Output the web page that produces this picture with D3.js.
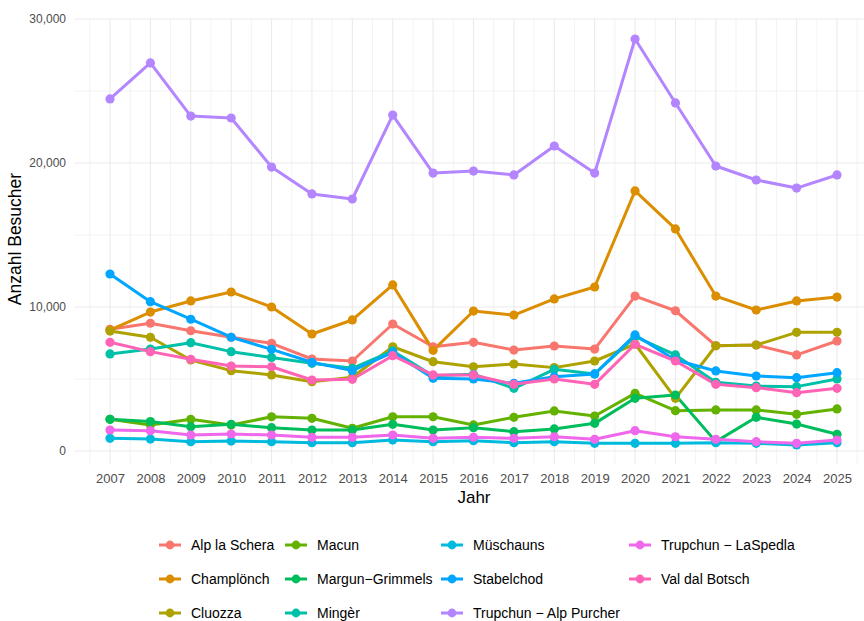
<!DOCTYPE html>
<html lang="de">
<head>
  <meta charset="UTF-8">
  <title>Anzahl Besucher</title>
  <script src="https://d3js.org/d3.v7.min.js"></script>
  <style>
    body { margin: 0; background: #fff; font-family: 'Liberation Sans', Arial, sans-serif; }
    svg { display: block; }
  </style>
</head>
<body>
  <svg id="chart" width="864" height="621"></svg>
  <script>
    const years = [2007, 2008, 2009, 2010, 2011, 2012, 2013, 2014, 2015, 2016, 2017, 2018, 2019, 2020, 2021, 2022, 2023, 2024, 2025];
    const yTicks = [0, 10000, 20000, 30000];

    const alpLaSchera = [8450, 8870, 8350, 7900, 7480, 6390, 6250, 8820, 7240, 7550, 7010, 7290, 7080, 10760, 9740, 7310, 7360, 6670, 7640];
    const champlonch = [8400, 9650, 10420, 11040, 10000, 8125, 9100, 11530, 6990, 9720, 9440, 10560, 11390, 18060, 15420, 10760, 9790, 10420, 10690];
    const cluozza = [8330, 7900, 6320, 5580, 5280, 4810, 5120, 7240, 6200, 5850, 6040, 5790, 6250, 7430, 3660, 7310, 7360, 8240, 8240];
    const macun = [2200, 1800, 2200, 1800, 2380, 2270, 1580, 2380, 2380, 1810, 2340, 2780, 2430, 4000, 2800, 2850, 2850, 2550, 2920];
    const margunGrimmels = [2200, 2050, 1690, 1850, 1620, 1460, 1460, 1850, 1460, 1620, 1340, 1530, 1920, 3660, 3890, 650, 2340, 1870, 1160];
    const minger = [6740, 7080, 7520, 6900, 6500, 6090, 5740, 6950, 5230, 5330, 4350, 5670, 5350, 7940, 6670, 4770, 4510, 4470, 5000];
    const muschauns = [880, 830, 650, 690, 650, 580, 580, 760, 650, 720, 580, 650, 530, 530, 530, 580, 530, 420, 580];
    const stabelchod = [12290, 10370, 9150, 7900, 7060, 6160, 5580, 6850, 5050, 5000, 4700, 5160, 5350, 8060, 6320, 5560, 5210, 5090, 5440];
    const trupchunAlpPurcher = [24450, 26950, 23260, 23125, 19720, 17850, 17500, 23330, 19300, 19440, 19170, 21180, 19300, 28610, 24170, 19790, 18820, 18260, 19170];
    const trupchunLaSpedla = [1460, 1410, 1110, 1180, 1110, 950, 950, 1110, 880, 950, 880, 990, 810, 1410, 990, 810, 650, 530, 760];
    const valDalBotsch = [7550, 6900, 6370, 5900, 5850, 4930, 4980, 6620, 5280, 5280, 4630, 5000, 4630, 7410, 6250, 4630, 4400, 4050, 4350];

    const seriesNames = ["Alp la Schera", "Champlönch", "Cluozza", "Macun", "Margun\u2212Grimmels", "Mingèr",
      "Müschauns", "Stabelchod", "Trupchun \u2212 Alp Purcher", "Trupchun \u2212 LaSpedla", "Val dal Botsch"];
    const seriesValues = [alpLaSchera, champlonch, cluozza, macun, margunGrimmels, minger,
      muschauns, stabelchod, trupchunAlpPurcher, trupchunLaSpedla, valDalBotsch];
    const colors = ["#F8766D", "#DB8E00", "#AEA200", "#64B200", "#00BD5C", "#00C1A7",
      "#00BADE", "#00A6FF", "#B385FF", "#EF67EB", "#FF63B6"];

    const series = seriesNames.map((name, i) => ({
      name: name,
      color: colors[i],
      values: years.map((yr, j) => ({ year: yr, value: seriesValues[i][j] }))
    }));

    const svg = d3.select("#chart");
    const panel = { left: 74, right: 873, top: 18, bottom: 464 };

    const x = d3.scaleLinear().domain([2007, 2025]).range([110, 837]);
    const y = d3.scaleLinear().domain([0, 30000]).range([451, 19]);

    const grid = svg.append("g");
    // minor grid
    const minorX = d3.range(2006.5, 2026, 1);
    grid.selectAll("line.mx").data(minorX).enter().append("line")
      .attr("x1", d => x(d)).attr("x2", d => x(d))
      .attr("y1", panel.top).attr("y2", panel.bottom)
      .attr("stroke", "#EBEBEB").attr("stroke-width", 0.6);
    grid.selectAll("line.my").data([5000, 15000, 25000]).enter().append("line")
      .attr("x1", panel.left).attr("x2", panel.right)
      .attr("y1", d => y(d)).attr("y2", d => y(d))
      .attr("stroke", "#EBEBEB").attr("stroke-width", 0.6);
    // major grid
    grid.selectAll("line.gx").data(years).enter().append("line")
      .attr("x1", d => x(d)).attr("x2", d => x(d))
      .attr("y1", panel.top).attr("y2", panel.bottom)
      .attr("stroke", "#EBEBEB").attr("stroke-width", 1.1);
    grid.selectAll("line.gy").data(yTicks).enter().append("line")
      .attr("x1", panel.left).attr("x2", panel.right)
      .attr("y1", d => y(d)).attr("y2", d => y(d))
      .attr("stroke", "#EBEBEB").attr("stroke-width", 1.1);

    // axes (text only, like theme_minimal)
    const xAxis = svg.append("g").attr("transform", `translate(0,${panel.bottom})`)
      .call(d3.axisBottom(x).tickValues(years).tickFormat(d3.format("d")).tickSize(0).tickPadding(10));
    const yAxis = svg.append("g").attr("transform", `translate(${panel.left},0)`)
      .call(d3.axisLeft(y).tickValues(yTicks).tickFormat(d3.format(",")).tickSize(0).tickPadding(8));
    [xAxis, yAxis].forEach(a => {
      a.select(".domain").remove();
      a.selectAll("text").attr("fill", "#4D4D4D")
        .style("font-family", "'Liberation Sans', Arial, sans-serif");
    });
    xAxis.selectAll("text").style("font-size", "13px");
    yAxis.selectAll("text").style("font-size", "12px");

    svg.append("text").attr("x", 474).attr("y", 503)
      .attr("text-anchor", "middle").style("font-size", "17px").attr("fill", "#000").text("Jahr");
    svg.append("text").attr("transform", "translate(21,239) rotate(-90)")
      .attr("text-anchor", "middle").style("font-size", "17.5px").attr("fill", "#000").text("Anzahl Besucher");

    const line = d3.line().x(d => x(d.year)).y(d => y(d.value));
    svg.append("g").selectAll("path").data(series).enter().append("path")
      .attr("d", d => line(d.values))
      .attr("fill", "none").attr("stroke", d => d.color)
      .attr("stroke-width", 3).attr("stroke-linejoin", "round");

    const pts = svg.append("g");
    series.forEach(s => {
      pts.selectAll(null).data(s.values).enter().append("circle")
        .attr("cx", d => x(d.year)).attr("cy", d => y(d.value))
        .attr("r", 4.6).attr("fill", s.color);
    });

    // legend, 3 rows, filled by column
    const colX = [159, 285, 441, 629];
    const rowY = [545, 579, 613];
    const legend = svg.append("g");
    series.forEach((s, i) => {
      const col = Math.floor(i / 3), row = i % 3;
      const g = legend.append("g").attr("transform", `translate(${colX[col]},${rowY[row]})`);
      g.append("line").attr("x1", 0).attr("x2", 22).attr("y1", 0).attr("y2", 0)
        .attr("stroke", s.color).attr("stroke-width", 3);
      g.append("circle").attr("cx", 11).attr("cy", 0).attr("r", 4.4).attr("fill", s.color);
      g.append("text").attr("x", 32).attr("y", 0).attr("dy", "0.35em")
        .style("font-size", "14px").attr("fill", "#000").text(s.name);
    });
  </script>
</body>
</html>
